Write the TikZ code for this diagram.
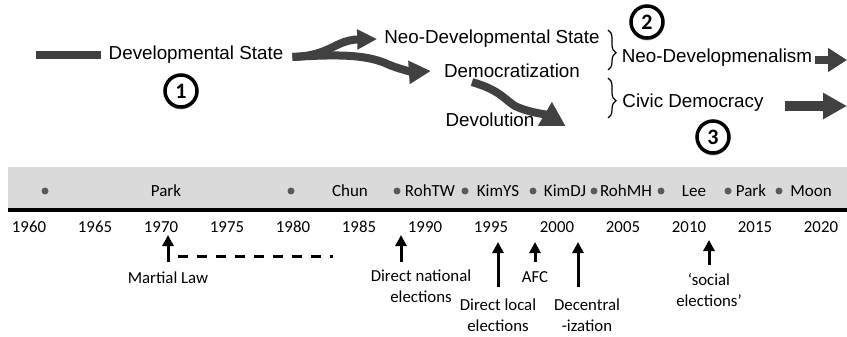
\documentclass[tikz,border=0pt]{standalone}
\usepackage{fontspec}
\setmainfont{Liberation Sans}
\newfontfamily\calibri{Carlito}
\usetikzlibrary{arrows.meta,shadows,decorations.pathreplacing}
\definecolor{flowgray}{HTML}{414141}
\definecolor{bandgray}{HTML}{DADADA}
\definecolor{dotgray}{HTML}{5A5A5A}

\tikzset{
  flow/.style={draw=flowgray, line width=8pt},
  stage/.style={font=\fontsize{18.8}{22}\selectfont, inner sep=1pt},
  numcirc/.style={circle, draw=black, line width=3.5pt, fill=white, minimum size=32pt, inner sep=0pt,
    font=\calibri\bfseries\fontsize{22}{22}\selectfont,
    drop shadow={shadow xshift=0pt, shadow yshift=-2.5pt, opacity=0.35, fill=black}},
  pres/.style={font=\calibri\fontsize{17}{20}\selectfont, inner sep=0pt},
  yr/.style={font=\calibri\fontsize{16.8}{20}\selectfont, inner sep=0pt},
  event/.style={font=\calibri\fontsize{16.8}{20.5}\selectfont, align=center, inner sep=0pt},
  evarrow/.style={line width=3pt, -{Triangle[width=11pt,length=11pt]}},
  grpbrace/.style={decorate, decoration={brace, amplitude=8pt, aspect=0.57}, line width=1.2pt}
}

\begin{document}
\begin{tikzpicture}[x=1pt,y=-1pt]
  \useasboundingbox (0,0) rectangle (847,337);

  % stages
  \node[stage] (devstate) at (196,55) {Developmental State};
  \node[stage] (neodev) at (492,39) {Neo-Developmental State};
  \node[stage] (democ) at (512,71) {Democratization};
  \node[stage] (devol) at (490,120) {Devolution};
  \node[stage] (neodevism) at (717,58) {Neo-Developmenalism};
  \node[stage] (civic) at (693,103) {Civic Democracy};

  \node[numcirc] (c1) at (181,91) {1};
  \node[numcirc] (c2) at (647,22) {2};
  \node[numcirc] (c3) at (713,137) {3};

  % flow arrows
  \coordinate (start) at (36,55);
  \draw[flow] (start) -- ([xshift=-7pt]devstate.west);
  \draw[flow, -{Triangle[width=19pt,length=20pt]}] ([xshift=8pt,yshift=-2pt]devstate.east)
    .. controls (330,56) and (335,40) .. ([xshift=-6pt]neodev.west |- 0,39);
  \draw[flow, -{Triangle[width=22pt,length=22pt]}] ([xshift=8pt,yshift=-2pt]devstate.east)
    .. controls (340,54) and (365,55) .. (385,63)
    .. controls (400,70) and (415,72) .. ([xshift=-12pt]democ.west);
  \draw[flow, -{Triangle[width=26pt,length=24pt]}] ([xshift=-40pt,yshift=-3pt]democ.south)
    .. controls (500,90) and (505,100) .. (515,106)
    .. controls (530,113) and (545,114) .. ([xshift=30pt,yshift=-6pt]devol.east);

  \coordinate (out1) at (847,60);
  \coordinate (out2) at (847,106);
  \draw[flow, -{Triangle[width=23pt,length=19pt]}] ([xshift=2pt]neodevism.east |- out1) -- (out1);
  \draw[flow, line width=10pt, -{Triangle[width=25pt,length=24pt]}] ([xshift=20pt]civic.east |- out2) -- (out2);

  % brackets
  \draw[grpbrace] (608,30) -- (608,70);
  \draw[grpbrace] (608,78) -- (608,118);

  % timeline band
  \fill[bandgray] (8,167) rectangle (847,208);
  \draw[line width=4pt] (8,210) -- (847,210);

  \foreach \x in {45,291,397,465,533,594,661,728,779}
    \fill[dotgray] (\x,191) circle (3.5pt);

  \foreach \x/\name/\nm in {166/Park/park,350/Chun/chun,430/RohTW/rohtw,498/KimYS/kimys,
      565/KimDJ/kimdj,626/RohMH/rohmh,694/Lee/lee,751/Park/parkgh,811/Moon/moon}
    \node[pres] (\nm) at (\x,191) {\name};

  \foreach \yr in {1960,1965,...,2020}
    \node[yr] (y\yr) at ({29+(\yr-1960)*13.2},227) {\yr};

  % events
  \node[event] (martial) at (168,278) {Martial Law};
  \node[event] (dnat) at (421,286) {Direct national\\elections};
  \node[event] (dloc) at (498,315) {Direct local\\elections};
  \node[event] (afc) at (535,277) {AFC};
  \node[event] (decen) at (587,315) {Decentral\\-ization};
  \node[event] (social) at (709,290) {‘social\\elections’};

  \draw[evarrow] (168,262) coordinate (mlb) -- (168,235) coordinate (mlt);
  \draw[line width=3pt, dash pattern=on 10pt off 9pt] (178,256) coordinate (mla) -- (333,256) coordinate (mlz);
  \draw[evarrow] (401,262) coordinate (dnb) -- (401,235) coordinate (dnt);
  \draw[evarrow] (498,287) coordinate (dlb) -- (498,242) coordinate (dlt);
  \draw[evarrow] (535,262) coordinate (afb) -- (535,242) coordinate (aft);
  \draw[evarrow] (578,287) coordinate (deb) -- (578,242) coordinate (det);
  \draw[evarrow] (709,265) coordinate (sob) -- (709,240) coordinate (sot);

\end{tikzpicture}
\end{document}
